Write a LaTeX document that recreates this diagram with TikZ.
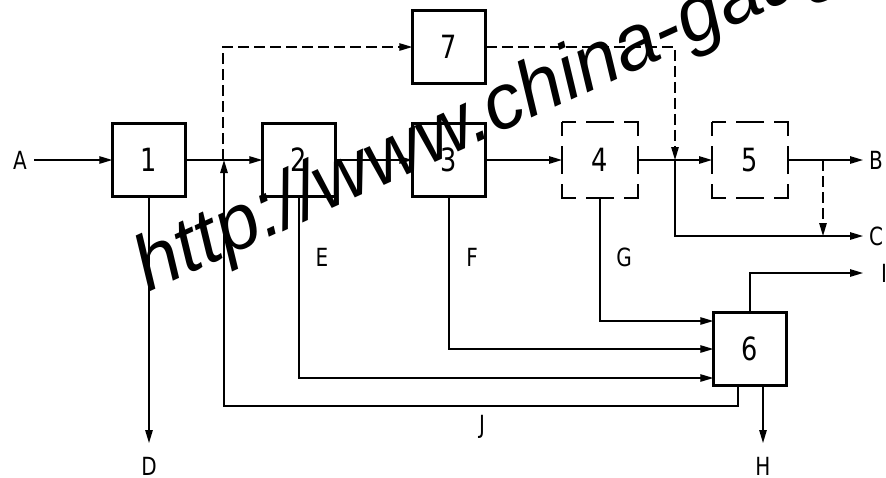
\documentclass[tikz,border=0pt]{standalone}
\usepackage{fontspec}
\usetikzlibrary{arrows.meta}
\newfontfamily\labfont[FakeStretch=0.8]{DejaVu Sans}
\newfontfamily\wmfont{Liberation Sans}
\begin{document}
\begin{tikzpicture}[x=1pt,y=-1pt,
  blk/.style={draw,line width=2.6pt,minimum size=73.5pt,inner sep=0pt,outer sep=0pt,font=\labfont\fontsize{32}{32}\selectfont},
  ln/.style={line width=1.3pt},
  tip/.style={-{Triangle[length=13pt,width=7.5pt]}},
  arr/.style={ln,tip},
  dsh/.style={dash pattern=on 11pt off 5pt},
  lab/.style={font=\labfont\fontsize{25}{25}\selectfont,inner sep=0pt}]
\useasboundingbox (0,0) rectangle (886,477);
% blocks
\node[blk] (b1) at (149,160) {1};
\node[blk] (b2) at (299,160) {2};
\node[blk] (b3) at (449,160) {3};
\node[blk] (b7) at (449,47) {7};
\node[blk] (b6) at (750,349) {6};
\draw[line width=2.6pt,dash pattern=on 28pt off 10pt,dash phase=14pt] (562,122) rectangle (638,198);
\draw[line width=2.6pt,dash pattern=on 28pt off 10pt,dash phase=14pt] (712,122) rectangle (788,198);
\node[minimum size=76pt,inner sep=0pt,outer sep=0pt,font=\labfont\fontsize{32}{32}\selectfont] (b4) at (600,160) {4};
\node[minimum size=76pt,inner sep=0pt,outer sep=0pt,font=\labfont\fontsize{32}{32}\selectfont] (b5) at (750,160) {5};
% labels
\node[lab] (lA) at (20,160) {A};
\node[lab,anchor=west] (lB) at (869,160) {B};
\node[lab,anchor=west] (lC) at (869,236) {C};
\node[lab,anchor=west] (lI) at (881,273) {I};
\node[lab] (lD) at (149,466) {D};
\node[lab] (lE) at (322,257) {E};
\node[lab] (lF) at (472,257) {F};
\node[lab] (lG) at (624,257) {G};
\node[lab] (lH) at (763,466) {H};
\node[lab] (lJ) at (482,427) {J};
% coordinates
\coordinate (jA) at (223,160);
\coordinate (jB) at (675,160);
\coordinate (oB) at (863,160);
\coordinate (oC) at (863,236);
\coordinate (oI) at (863,273);
\coordinate (jC) at (823,160);
\coordinate (oD) at (149,443);
\coordinate (oH) at (763,443);
% main line
\draw[arr] (34,160) -- (b1.west);
\draw[arr] (b1.east) -- (b2.west);
\draw[arr] (b2.east) -- (b3.west);
\draw[arr] (b3.east) -- (b4.west);
\draw[arr] (b4.east) -- (b5.west);
\draw[arr] (b5.east) -- (oB);
% dashed branch via 7
\draw[ln,dsh,tip] (jA) |- (b7.west);
\draw[ln,dsh,tip] (b7.east) -| (jB);
\draw[arr] (jB) |- (oC);
\draw[ln,dsh,tip] (jC) -- (jC |- oC);
% downward outputs
\draw[arr] (b1.south) -- (oD);
\draw[arr] (b2.south) |- (b6.west |- 0,378);
\draw[arr] (b3.south) |- (b6.west);
\draw[arr] (b4.south) |- (b6.west |- 0,321);
\draw[arr] (b6.north) |- (oI);
\draw[arr] (b6.south -| oH) -- (oH);
\draw[arr] (738,387) |- (224,406) -- (224,160);
% watermark
\node[font=\wmfont\itshape\fontsize{78}{78}\selectfont,anchor=base west,rotate=24.5,inner sep=0pt] (wm) at (148,293) {http://www.china-gauges.com};
\end{tikzpicture}
\end{document}
